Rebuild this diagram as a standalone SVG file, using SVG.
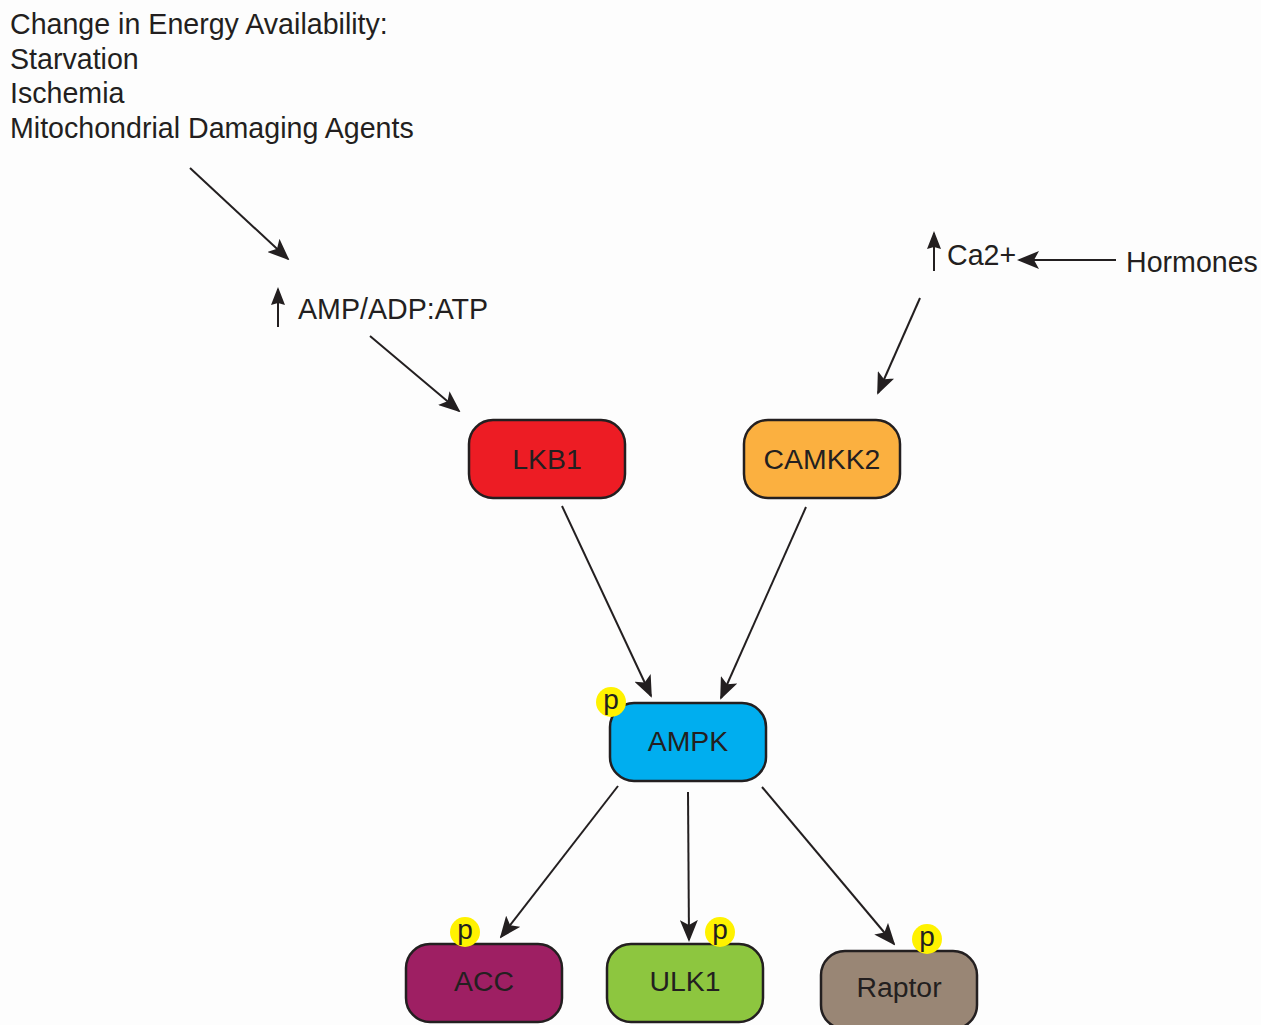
<svg xmlns="http://www.w3.org/2000/svg" width="1261" height="1025" viewBox="0 0 1261 1025">
<style>
text{font-family:"Liberation Sans",Arial,sans-serif;fill:#231f20}
.t{font-size:28.6px}
.lbl{font-size:28.4px;text-anchor:middle}
.box{stroke:#231f20;stroke-width:2.5}
.p{fill:#fff200}
.pt{font-size:28px;text-anchor:middle;fill:#231f20}
.c{stroke:#231f20;stroke-width:2;fill:none;marker-end:url(#ah)}
.u{stroke:#231f20;stroke-width:2;fill:none;marker-end:url(#uh)}
</style>
<defs>
<marker id="ah" viewBox="0 0 22 18" refX="20" refY="9" markerWidth="22" markerHeight="18" markerUnits="userSpaceOnUse" orient="auto">
<path d="M0,0 L22,9 L0,18 L5,9 Z" fill="#231f20"/>
</marker>
<marker id="uh" viewBox="0 0 18 14" refX="16" refY="7" markerWidth="18" markerHeight="14" markerUnits="userSpaceOnUse" orient="auto">
<path d="M0,0 L18,7 L0,14 L2,7 Z" fill="#231f20"/>
</marker>
</defs>
<rect width="1261" height="1025" fill="#fdfdfd"/>
<g id="header">
<text class="t" x="10" y="34">Change in Energy Availability:</text>
<text class="t" x="10" y="69">Starvation</text>
<text class="t" x="10" y="103">Ischemia</text>
<text class="t" x="10" y="138">Mitochondrial Damaging Agents</text>
</g>
<g id="amp">
<text class="t" x="298" y="319">AMP/ADP:ATP</text>
</g>
<g id="ca">
<text class="t" x="947" y="265">Ca2+</text>
</g>
<g id="hormones">
<text class="t" x="1126" y="272">Hormones</text>
</g>
<g id="connectors">
<line class="u" x1="278" y1="327" x2="278" y2="289"/>
<line class="u" x1="934" y1="271" x2="934" y2="233"/>
<line class="c" x1="190" y1="168" x2="288" y2="259"/>
<line class="c" x1="370" y1="336" x2="459" y2="411"/>
<line class="c" x1="920" y1="298" x2="878" y2="393"/>
<line class="c" x1="1116" y1="260" x2="1019" y2="260"/>
<line class="c" x1="562" y1="506" x2="651" y2="696"/>
<line class="c" x1="806" y1="507" x2="721" y2="698"/>
<line class="c" x1="618" y1="786" x2="501" y2="937"/>
<line class="c" x1="688" y1="792" x2="689" y2="940"/>
<line class="c" x1="762" y1="787" x2="894" y2="944"/>
</g>
<g id="LKB1">
<rect class="box" x="469" y="420" width="156" height="78" rx="24" fill="#ed1c24"/>
<text class="lbl" x="547" y="469">LKB1</text>
</g>
<g id="CAMKK2">
<rect class="box" x="744" y="420" width="156" height="78" rx="24" fill="#fbb040"/>
<text class="lbl" x="822" y="469">CAMKK2</text>
</g>
<g id="AMPK">
<rect class="box" x="610" y="703" width="156" height="78" rx="24" fill="#00aeef"/>
<text class="lbl" x="688" y="751">AMPK</text>
<circle class="p" cx="611" cy="702" r="15"/>
<text class="pt" x="611" y="709">p</text>
</g>
<g id="ACC">
<rect class="box" x="406" y="944" width="156" height="78" rx="24" fill="#9e1f63"/>
<text class="lbl" x="484" y="991">ACC</text>
<circle class="p" cx="465" cy="932" r="15"/>
<text class="pt" x="465" y="939">p</text>
</g>
<g id="ULK1">
<rect class="box" x="607" y="944" width="156" height="78" rx="24" fill="#8dc63f"/>
<text class="lbl" x="685" y="991">ULK1</text>
<circle class="p" cx="720" cy="932" r="15"/>
<text class="pt" x="720" y="939">p</text>
</g>
<g id="Raptor">
<rect class="box" x="821" y="951" width="156" height="78" rx="24" fill="#998675"/>
<text class="lbl" x="899" y="997">Raptor</text>
<circle class="p" cx="927" cy="939" r="15"/>
<text class="pt" x="927" y="946">p</text>
</g>
</svg>
